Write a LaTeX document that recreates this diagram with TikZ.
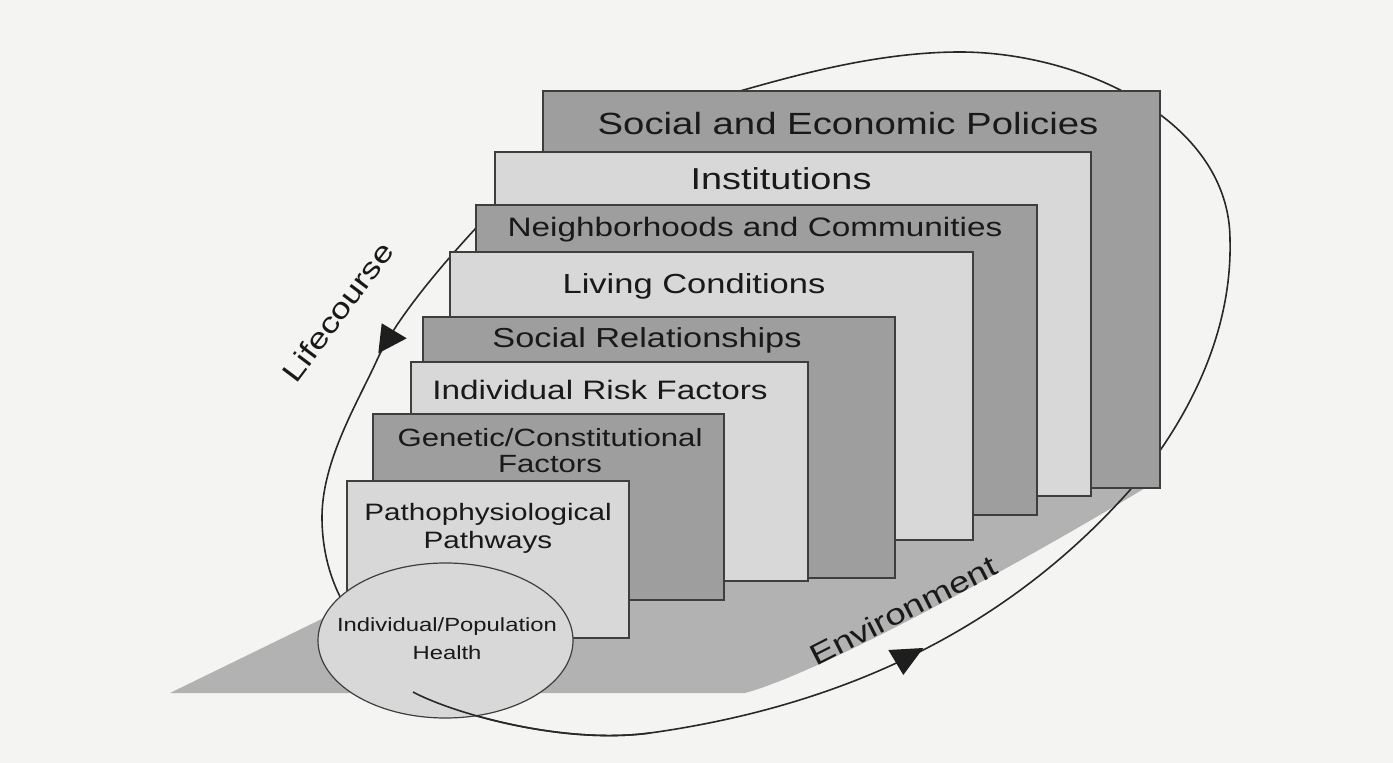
\documentclass[tikz,border=0pt]{standalone}
\usepackage{fontspec}
\setmainfont{Liberation Sans}[FakeStretch=1.25]

\begin{document}
\begin{tikzpicture}[x=0.75pt,y=0.75pt,yscale=-1,xscale=1,
  darkbox/.style={draw={rgb, 255:red, 62; green, 62; blue, 62 }, fill={rgb, 255:red, 158; green, 158; blue, 158 }, line width=0.9},
  lightbox/.style={draw={rgb, 255:red, 62; green, 62; blue, 62 }, fill={rgb, 255:red, 216; green, 216; blue, 216 }, line width=0.9},
  loopline/.style={draw={rgb, 255:red, 40; green, 40; blue, 40 }, line width=1.2},
  tiphead/.style={fill={rgb, 255:red, 30; green, 30; blue, 30 }},
  boxtext/.style={inner sep=0.75pt, text={rgb, 255:red, 25; green, 25; blue, 25 }}]
\useasboundingbox (0,0) rectangle (1393,763);
\fill [fill={rgb, 255:red, 244; green, 244; blue, 242 }] (0,0) rectangle (1393,763);

%Shape: Polygon (floor)
\fill [fill={rgb, 255:red, 178; green, 178; blue, 178 }] (170,693) -- (745,693) .. controls (830,670) and (1060,540) .. (1145,488) -- (1160,210) -- cycle ;

%Curve Lines (loop)
\draw [loopline] (413,692) .. controls (450,712) and (560,745) .. (650,733) .. controls (850,705) and (1010,625) .. (1130,490) .. controls (1200,406) and (1232,320) .. (1230,240) .. controls (1230,120) and (1080,52) .. (960,52) .. controls (880,52) and (800,74) .. (740,91) .. controls (640,117) and (530,170) .. (476,228) .. controls (441,266) and (395,320) .. (377,360) .. controls (359,400) and (322,460) .. (322,517) .. controls (322,550) and (330,580) .. (345,606) ;

%Shape: Rectangle
\draw [darkbox] (543,91) -- (1160,91) -- (1160,488) -- (543,488) -- cycle ;
%Shape: Rectangle
\draw [lightbox] (495,152) -- (1091,152) -- (1091,496) -- (495,496) -- cycle ;
%Shape: Rectangle
\draw [darkbox] (476,205) -- (1037,205) -- (1037,515) -- (476,515) -- cycle ;
%Shape: Rectangle
\draw [lightbox] (450,252) -- (973,252) -- (973,540) -- (450,540) -- cycle ;
%Shape: Rectangle
\draw [darkbox] (423,317) -- (895,317) -- (895,578) -- (423,578) -- cycle ;
%Shape: Rectangle
\draw [lightbox] (411,362) -- (808,362) -- (808,581) -- (411,581) -- cycle ;
%Shape: Rectangle
\draw [darkbox] (373,414) -- (724,414) -- (724,600) -- (373,600) -- cycle ;
%Shape: Rectangle
\draw [lightbox] (347,481) -- (629,481) -- (629,638) -- (347,638) -- cycle ;

%Shape: Ellipse
\draw [lightbox] (445.5,640.5) ellipse (127.5 and 77.5) ;
%Curve Lines (loop start over the ellipse)
\draw [loopline] (413,692) .. controls (450,712) and (560,745) .. (650,733) ;

%Shape: Triangle
\fill [tiphead] (381.7,323.3) -- (406.7,338.3) -- (378.3,353.3) -- cycle ;
%Shape: Triangle
\fill [tiphead] (888.3,650) -- (923.3,648) -- (903.3,675) -- cycle ;

% Text Node
\draw (848,135) node (policies) [boxtext, anchor=base] [font=\fontsize{23}{27}\selectfont] {Social and Economic Policies};
% Text Node
\draw (781,190) node (institutions) [boxtext, anchor=base] [font=\fontsize{22.7}{27}\selectfont] {Institutions};
% Text Node
\draw (755,237) node (neighborhoods) [boxtext, anchor=base] [font=\fontsize{20}{24}\selectfont] {Neighborhoods and Communities};
% Text Node
\draw (694,293) node (living) [boxtext, anchor=base] [font=\fontsize{20.7}{25}\selectfont] {Living Conditions};
% Text Node
\draw (647,347) node (relationships) [boxtext, anchor=base] [font=\fontsize{20.6}{25}\selectfont] {Social Relationships};
% Text Node
\draw (600,399) node (riskfactors) [boxtext, anchor=base] [font=\fontsize{20}{24}\selectfont] {Individual Risk Factors};
% Text Node
\draw (550,451) node (genetic) [boxtext, align=center] [font=\fontsize{18.7}{19.5}\selectfont] {Genetic/Constitutional\\Factors};
% Text Node
\draw (488,528) node (pathways) [boxtext, align=center] [font=\fontsize{17.8}{21}\selectfont] {Pathophysiological\\Pathways};
% Text Node
\draw (447,639) node (health) [boxtext, align=center] [font=\fontsize{14.3}{21}\selectfont] {Individual/Population\\Health};
% Text Node
\draw (346,318) node (lifecourse) [boxtext, anchor=base, rotate=53] [font=\fontsize{21.5}{26}\selectfont] {Lifecourse};
% Text Node
\draw (908,620) node (environment) [boxtext, anchor=base, rotate=27] [font=\fontsize{22}{26}\selectfont] {Environment};

\end{tikzpicture}
\end{document}
